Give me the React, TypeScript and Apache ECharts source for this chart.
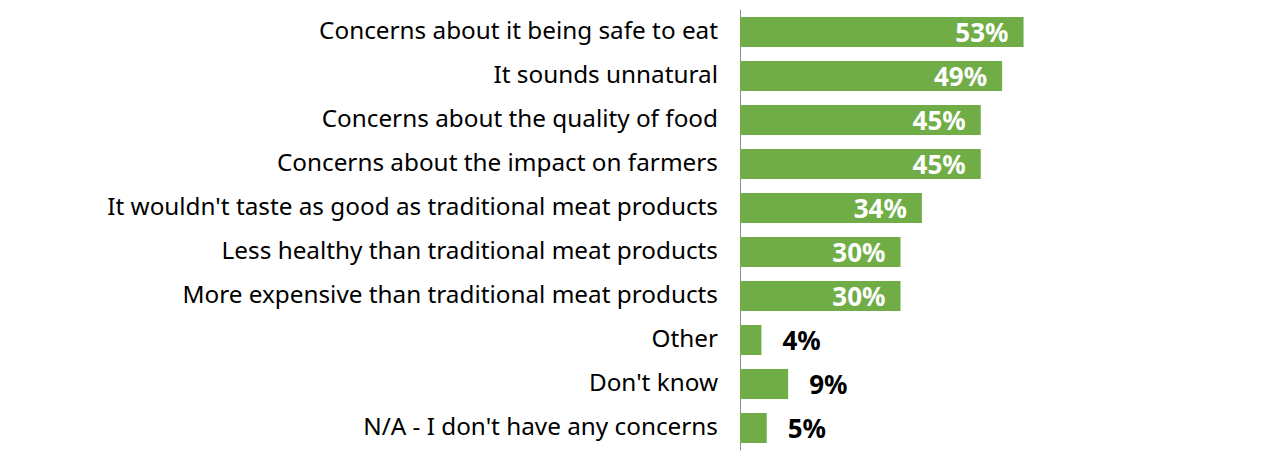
import React, { useEffect, useRef } from "react";
import * as echarts from "echarts";

const categories = [
  "Concerns about it being safe to eat",
  "It sounds unnatural",
  "Concerns about the quality of food",
  "Concerns about the impact on farmers",
  "It wouldn't taste as good as traditional meat products",
  "Less healthy than traditional meat products",
  "More expensive than traditional meat products",
  "Other",
  "Don't know",
  "N/A - I don't have any concerns",
];
const values = [53, 49, 45, 45, 34, 30, 30, 4, 9, 5];

const FONT = "Noto Sans";

export default function App() {
  const ref = useRef<HTMLDivElement>(null);
  useEffect(() => {
    if (!ref.current) return;
    const chart = echarts.init(ref.current, undefined, { renderer: "svg" });
    const data = values.map((v) => {
      const inside = v >= 20;
      return {
        value: v,
        label: inside
          ? { position: "insideRight", distance: 15, color: "#ffffff" }
          : { position: "right", distance: 21, color: "#000000" },
      };
    });
    chart.setOption({
      animation: false,
      grid: { left: 740, right: 3, top: 10, bottom: 11, containLabel: false },
      xAxis: {
        type: "value",
        min: 0,
        max: 100,
        show: false,
      },
      yAxis: {
        type: "category",
        data: categories,
        inverse: true,
        axisLine: { show: true, lineStyle: { color: "#8c8c8c", width: 1 } },
        axisTick: { show: false },
        axisLabel: {
          margin: 22,
          formatter: "{a|{value}}",
          rich: {
            a: {
              fontFamily: FONT,
              fontSize: 24.3,
              color: "#000000",
              padding: [0, 0, 6, 0],
            },
          },
        },
      },
      series: [
        {
          type: "bar",
          data,
          barWidth: 30,
          itemStyle: { color: "#70AD47" },
          label: {
            show: true,
            formatter: "{c}%",
            fontFamily: FONT,
            fontSize: 26,
            fontWeight: "bold",
          },
        },
      ],
    });
    return () => chart.dispose();
  }, []);
  return (
    <div
      ref={ref}
      style={{ position: "absolute", left: 0, top: 0, width: 1278, height: 461 }}
    />
  );
}
